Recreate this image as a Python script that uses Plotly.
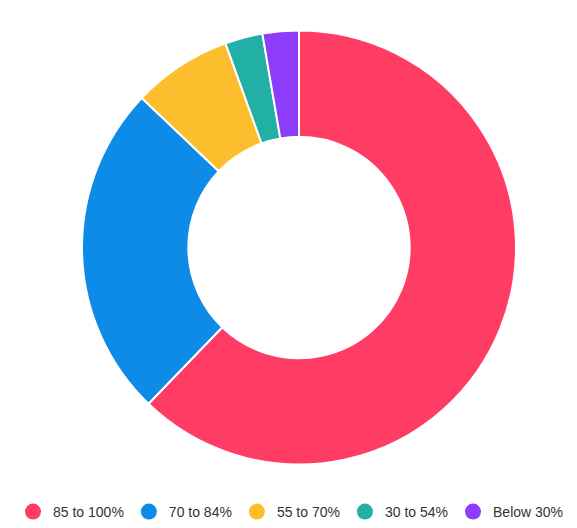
import plotly.graph_objects as go

categories = ["85 to 100%", "70 to 84%", "55 to 70%", "30 to 54%", "Below 30%"]
shares = [62.2, 24.9, 7.4, 2.8, 2.7]
colors = ["#FF3C64", "#0D8BE6", "#FDBE2D", "#22AFA5", "#8C3CFA"]

W, H = 577, 528
# page body adds an 8px offset, so compensate
cx, cy_top, r = 291, 239.5, 217

fig = go.Figure()
fig.add_trace(go.Pie(
    labels=categories,
    values=shares,
    hole=0.51,
    sort=False,
    direction="clockwise",
    rotation=0,
    marker=dict(colors=colors, line=dict(color="white", width=2)),
    textinfo="none",
    hoverinfo="label+percent",
    showlegend=False,
    domain=dict(
        x=[(cx - r) / W, (cx + r) / W],
        y=[(H - cy_top - r) / H, (H - cy_top + r) / H],
    ),
))

for name, col in zip(categories, colors):
    fig.add_trace(go.Scatter(
        x=[None], y=[None], mode="markers", name=name,
        marker=dict(symbol="circle", size=16, color=col),
        showlegend=True,
    ))

fig.update_layout(
    width=W, height=H,
    margin=dict(l=0, r=0, t=0, b=0, autoexpand=False),
    paper_bgcolor="white",
    plot_bgcolor="white",
    font=dict(family="Liberation Sans, Arial, sans-serif", size=14, color="#333333"),
    xaxis=dict(visible=False),
    yaxis=dict(visible=False),
    legend=dict(
        orientation="h",
        x=5 / W, xanchor="left",
        y=(H - 504) / H, yanchor="middle",
        itemwidth=30,
        traceorder="normal",
        font=dict(size=14, color="#333333"),
    ),
)

fig.write_html("out.html")
